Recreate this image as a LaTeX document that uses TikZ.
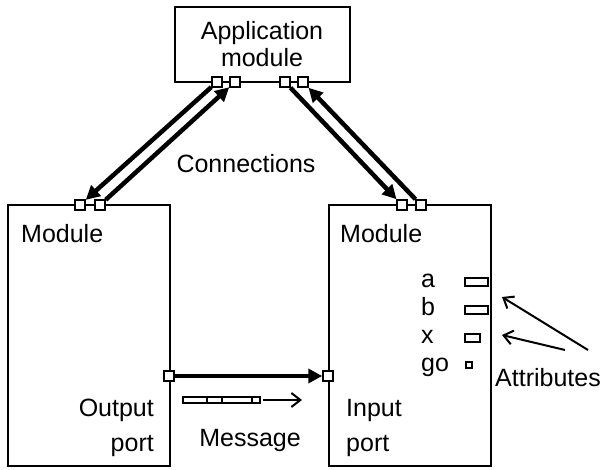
\documentclass[tikz,border=0pt]{standalone}
\usepackage{fontspec}
\setmainfont{Liberation Sans}
\usetikzlibrary{arrows.meta,backgrounds}
\begin{document}
\begin{tikzpicture}[x=1pt,y=-1pt,
  box/.style={draw,line width=2pt,inner sep=0pt},
  port/.style={draw,fill=white,line width=1.5pt,minimum size=10pt,inner sep=0pt},
  conn/.style={line width=4.5pt,-{Triangle[length=14pt,width=14pt]}},
  lbl/.style={font=\fontsize{25}{27}\selectfont,inner sep=0pt},
  attr/.style={draw,line width=1.5pt,inner sep=0pt},
  thinarrow/.style={line width=2pt,-{Straight Barb[length=9pt,width=14pt,line width=2pt]}},
  thinline/.style={line width=1.5pt}]
\useasboundingbox (0,0) rectangle (600,470);
% boxes
\node[box,minimum width=175pt,minimum height=75pt] (app) at (262.5,44.5) {};
\node[box,minimum width=162pt,minimum height=261pt] (lmod) at (89,335.5) {};
\node[box,minimum width=162pt,minimum height=261pt] (rmod) at (410,335.5) {};
% texts
\node[lbl,anchor=base] (apptxt1) at (262,40) {Application};
\node[lbl,anchor=base] (apptxt2) at (262,67) {module};
\node[lbl,anchor=base] (conntxt) at (246,173) {Connections};
\node[lbl,anchor=base west] (lmodtxt) at (21,243) {Module};
\node[lbl,anchor=base west] (rmodtxt) at (340,243) {Module};
\node[lbl,anchor=base east] (outtxt1) at (154,417) {Output};
\node[lbl,anchor=base east] (outtxt2) at (154,451) {port};
\node[lbl,anchor=base west] (intxt1) at (346,417) {Input};
\node[lbl,anchor=base west] (intxt2) at (346,451) {port};
\node[lbl,anchor=base] (msgtxt) at (250,446) {Message};
\node[lbl,anchor=base] (attrtxt) at (548,387) {Attributes};
\node[lbl,anchor=base west] (ta) at (421,288) {a};
\node[lbl,anchor=base west] (tb) at (421,316) {b};
\node[lbl,anchor=base west] (tx) at (421,344) {x};
\node[lbl,anchor=base west] (tgo) at (421,372) {go};
% ports
\node[port] (pa1) at (217,82) {};
\node[port] (pa2) at (235,82) {};
\node[port] (pa3) at (285,82) {};
\node[port] (pa4) at (303,82) {};
\node[port] (pl1) at (80,205) {};
\node[port] (pl2) at (100,205) {};
\node[port] (pr1) at (402,205) {};
\node[port] (pr2) at (421,205) {};
\node[port] (po) at (169,376) {};
\node[port] (pi) at (328,376) {};
% connections
\begin{pgfonlayer}{background}
\draw[conn] (pa1) -- (pl1);
\draw[conn] (pl2) -- (pa2);
\draw[conn] (pa3) -- (pr1);
\draw[conn] (pr2) -- (pa4);
\draw[conn] (po) -- (pi);
\end{pgfonlayer}
% message
\node[draw,thinline,minimum width=77pt,minimum height=6pt,inner sep=0pt] (msg) at (221.5,400) {};
\foreach \xx in {207,222,252} \draw[thinline] (\xx,0 |- msg.north) -- (\xx,0 |- msg.south);
\coordinate (mend) at (302,400);
\draw[thinarrow] ([xshift=2pt]msg.east) -- (mend);
% attributes
\node[attr,minimum width=23pt,minimum height=8pt] (ra) at (476.5,282) {};
\node[attr,minimum width=23pt,minimum height=8pt] (rb) at (476.5,310) {};
\node[attr,minimum width=15pt,minimum height=8pt] (rx) at (472.5,338) {};
\node[attr,minimum width=6pt,minimum height=6pt] (rgo) at (469,365) {};
\coordinate (c1) at (588,350);
\coordinate (c2) at (565,350);
\coordinate (t1) at (502,297);
\coordinate (t2) at (502,335);
\draw[thinarrow] (c1) -- (t1);
\draw[thinarrow] (c2) -- (t2);
\end{tikzpicture}
\end{document}
